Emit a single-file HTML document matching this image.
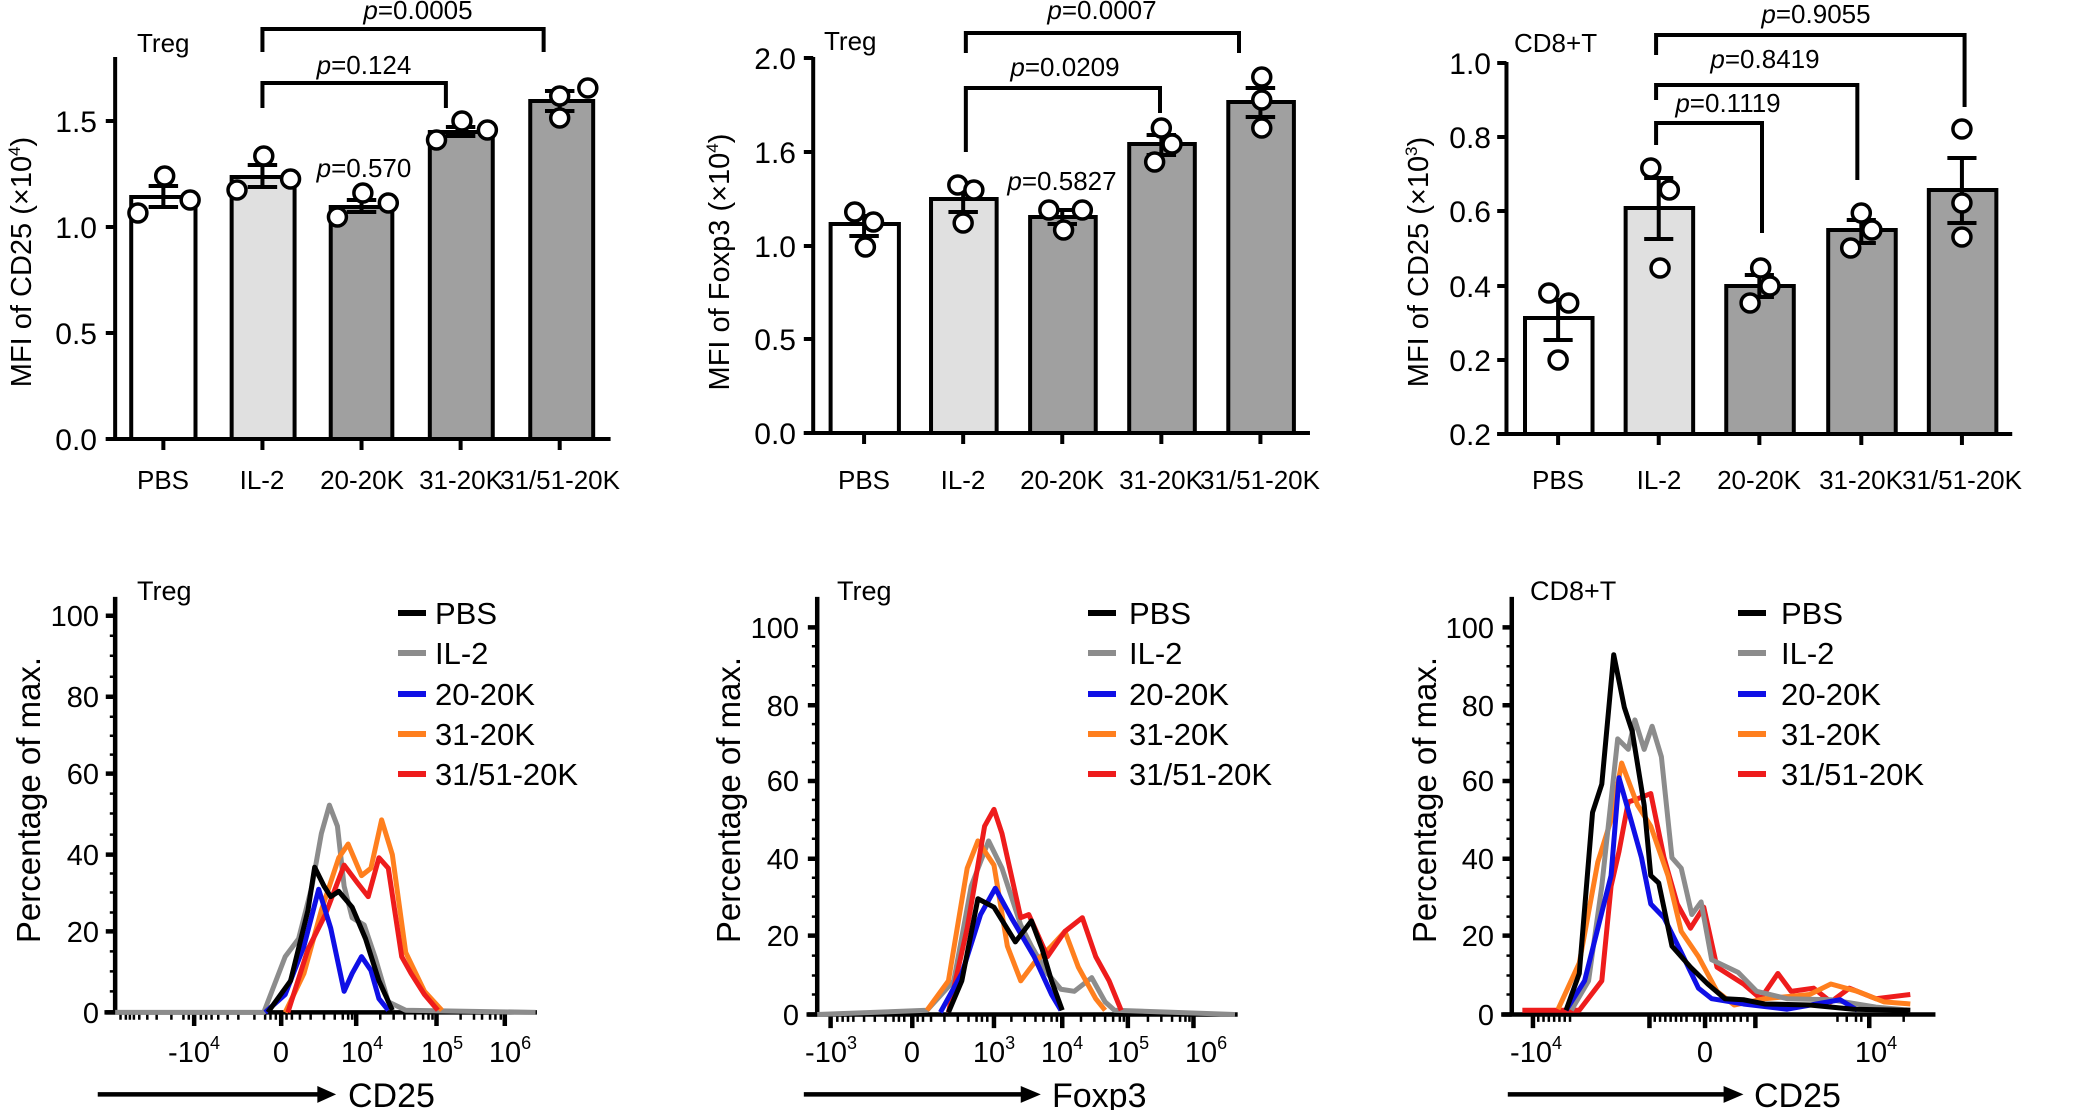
<!DOCTYPE html>
<html><head><meta charset="utf-8"><style>
html,body{margin:0;padding:0;background:#fff;}
svg{display:block;font-family:"Liberation Sans",Arial,sans-serif;}
path,rect,ellipse,polyline,line{vector-effect:non-scaling-stroke;}
</style></head><body>
<svg width="2082" height="1110" viewBox="0 0 2082 1110" xmlns="http://www.w3.org/2000/svg">

<!-- ===== TOP LEFT (shapes) ===== -->
<g transform="matrix(1.339 0 0 1 0 0)">
<g stroke="#000" fill="none" stroke-width="4">
<path d="M86 57 V440 M79 439 H456"/>
<path d="M79 121 H86 M79 227 H86 M79 333 H86 M79 439 H86"/>
<path d="M122 439 V450 M196 439 V450 M270 439 V450 M344 439 V450 M418 439 V450"/>
</g>
<g stroke="#000" stroke-width="4">
<rect x="98" y="197" width="48" height="242" fill="#fff"/>
<rect x="173" y="177" width="47" height="262" fill="#e0e0e0"/>
<rect x="247" y="207" width="46" height="232" fill="#a0a0a0"/>
<rect x="321" y="132" width="47" height="307" fill="#a0a0a0"/>
<rect x="396" y="101" width="47" height="338" fill="#a0a0a0"/>
</g>
<g stroke="#000" stroke-width="4" fill="none">
<path d="M122 186 V207 M111 186 H133 M111 207 H133"/>
<path d="M196 165 V187 M185 165 H207 M185 187 H207"/>
<path d="M270 200 V212 M259 200 H281 M259 212 H281"/>
<path d="M344 127 V136 M333 127 H355 M333 136 H355"/>
<path d="M418 91 V111 M407 91 H429 M407 111 H429"/>
<path d="M196 52 V29 H406 V52"/>
<path d="M196 108 V83 H333 V108"/>
</g>
<g stroke="#000" stroke-width="3.5" fill="#fff">
<ellipse cx="103" cy="213" rx="6.7" ry="9"/><ellipse cx="123" cy="176" rx="6.7" ry="9"/><ellipse cx="142" cy="200" rx="6.7" ry="9"/>
<ellipse cx="177" cy="190" rx="6.7" ry="9"/><ellipse cx="197" cy="156" rx="6.7" ry="9"/><ellipse cx="217" cy="179" rx="6.7" ry="9"/>
<ellipse cx="252" cy="217" rx="6.7" ry="9"/><ellipse cx="271" cy="193" rx="6.7" ry="9"/><ellipse cx="290" cy="203" rx="6.7" ry="9"/>
<ellipse cx="326" cy="140" rx="6.7" ry="9"/><ellipse cx="345" cy="121" rx="6.7" ry="9"/><ellipse cx="364" cy="130" rx="6.7" ry="9"/>
<ellipse cx="418" cy="118" rx="6.7" ry="9"/><ellipse cx="418" cy="96" rx="6.7" ry="9"/><ellipse cx="439" cy="88" rx="6.7" ry="9"/>
</g>
</g>
<g font-size="30" fill="#000">
<g text-anchor="end"><text x="97" y="132">1.5</text><text x="97" y="238">1.0</text><text x="97" y="344">0.5</text><text x="97" y="450">0.0</text></g>
<g text-anchor="middle" font-size="26"><text x="163" y="489">PBS</text><text x="262" y="489">IL-2</text><text x="362" y="489">20-20K</text><text x="461" y="489">31-20K</text><text x="560" y="489">31/51-20K</text></g>
<text x="137" y="52" font-size="26">Treg</text>
<g font-size="26" text-anchor="middle"><text x="418" y="19"><tspan font-style="italic">p</tspan>=0.0005</text><text x="364" y="74"><tspan font-style="italic">p</tspan>=0.124</text><text x="364" y="177"><tspan font-style="italic">p</tspan>=0.570</text></g>
<text transform="translate(31,262) rotate(-90)" text-anchor="middle" font-size="29">MFI of CD25 (×10<tspan font-size="17" dy="-11">4</tspan><tspan dy="11">)</tspan></text>
</g>

<!-- ===== TOP MIDDLE ===== -->
<g transform="matrix(1.339 0 0 1 -233.9 0)">
<g stroke="#000" fill="none" stroke-width="4">
<path d="M782 57 V434 M775 433 H1153"/>
<path d="M775 58 H782 M775 152 H782 M775 246 H782 M775 339 H782 M775 433 H782"/>
<path d="M820 433 V444 M894 433 V444 M968 433 V444 M1042 433 V444 M1116 433 V444"/>
</g>
<g stroke="#000" stroke-width="4">
<rect x="795" y="224" width="51" height="209" fill="#fff"/>
<rect x="870" y="199" width="49" height="234" fill="#e0e0e0"/>
<rect x="944" y="217" width="49" height="216" fill="#a0a0a0"/>
<rect x="1018" y="144" width="49" height="289" fill="#a0a0a0"/>
<rect x="1092" y="102" width="49" height="331" fill="#a0a0a0"/>
</g>
<g stroke="#000" stroke-width="4" fill="none">
<path d="M820 216 V236 M809 216 H831 M809 236 H831"/>
<path d="M894 188 V212 M883 188 H905 M883 212 H905"/>
<path d="M968 210 V224 M957 210 H979 M957 224 H979"/>
<path d="M1042 135 V155 M1031 135 H1053 M1031 155 H1053"/>
<path d="M1116 88 V117 M1105 88 H1127 M1105 117 H1127"/>
<path d="M896 53 V33 H1100 V53"/>
<path d="M896 152 V88 H1041 V113"/>
</g>
<g stroke="#000" stroke-width="3.5" fill="#fff">
<ellipse cx="813" cy="212" rx="6.7" ry="9"/><ellipse cx="827" cy="222" rx="6.7" ry="9"/><ellipse cx="821" cy="247" rx="6.7" ry="9"/>
<ellipse cx="890" cy="185" rx="6.7" ry="9"/><ellipse cx="902" cy="190" rx="6.7" ry="9"/><ellipse cx="894" cy="223" rx="6.7" ry="9"/>
<ellipse cx="958" cy="210" rx="6.7" ry="9"/><ellipse cx="983" cy="210" rx="6.7" ry="9"/><ellipse cx="969" cy="230" rx="6.7" ry="9"/>
<ellipse cx="1042" cy="128" rx="6.7" ry="9"/><ellipse cx="1050" cy="144" rx="6.7" ry="9"/><ellipse cx="1037" cy="162" rx="6.7" ry="9"/>
<ellipse cx="1117" cy="77" rx="6.7" ry="9"/><ellipse cx="1117" cy="100" rx="6.7" ry="9"/><ellipse cx="1117" cy="128" rx="6.7" ry="9"/>
</g>
</g>
<g font-size="30" fill="#000">
<g text-anchor="end"><text x="796" y="69">2.0</text><text x="796" y="163">1.6</text><text x="796" y="257">1.0</text><text x="796" y="350">0.5</text><text x="796" y="444">0.0</text></g>
<g text-anchor="middle" font-size="26"><text x="864" y="489">PBS</text><text x="963" y="489">IL-2</text><text x="1062" y="489">20-20K</text><text x="1161" y="489">31-20K</text><text x="1260" y="489">31/51-20K</text></g>
<text x="824" y="50" font-size="26">Treg</text>
<g font-size="26" text-anchor="middle"><text x="1102" y="19"><tspan font-style="italic">p</tspan>=0.0007</text><text x="1065" y="76"><tspan font-style="italic">p</tspan>=0.0209</text><text x="1062" y="190"><tspan font-style="italic">p</tspan>=0.5827</text></g>
<text transform="translate(729,262) rotate(-90)" text-anchor="middle" font-size="29">MFI of Foxp3 (×10<tspan font-size="17" dy="-11">4</tspan><tspan dy="11">)</tspan></text>
</g>

<!-- ===== TOP RIGHT ===== -->
<g transform="matrix(1.324 0 0 1 -450.4 0)">
<g stroke="#000" fill="none" stroke-width="4">
<path d="M1478 62 V435 M1471 434 H1860"/>
<path d="M1471 63 H1478 M1471 137 H1478 M1471 211 H1478 M1471 286 H1478 M1471 360 H1478 M1471 434 H1478"/>
<path d="M1517 434 V445 M1593 434 V445 M1669 434 V445 M1746 434 V445 M1822 434 V445"/>
</g>
<g stroke="#000" stroke-width="4">
<rect x="1492" y="318" width="51" height="116" fill="#fff"/>
<rect x="1568" y="208" width="51" height="226" fill="#e0e0e0"/>
<rect x="1644" y="286" width="51" height="148" fill="#a0a0a0"/>
<rect x="1721" y="230" width="51" height="204" fill="#a0a0a0"/>
<rect x="1797" y="190" width="51" height="244" fill="#a0a0a0"/>
</g>
<g stroke="#000" stroke-width="4" fill="none">
<path d="M1517 300 V340 M1506 300 H1528 M1506 340 H1528"/>
<path d="M1593 178 V239 M1582 178 H1604 M1582 239 H1604"/>
<path d="M1669 275 V297 M1658 275 H1680 M1658 297 H1680"/>
<path d="M1746 220 V243 M1735 220 H1757 M1735 243 H1757"/>
<path d="M1822 158 V223 M1811 158 H1833 M1811 223 H1833"/>
<path d="M1591 55 V35 H1824 V107"/>
<path d="M1591 100 V85 H1743 V180"/>
<path d="M1591 145 V123 H1671 V233"/>
</g>
<g stroke="#000" stroke-width="3.5" fill="#fff">
<ellipse cx="1510" cy="293" rx="6.8" ry="9"/><ellipse cx="1525" cy="303" rx="6.8" ry="9"/><ellipse cx="1517" cy="360" rx="6.8" ry="9"/>
<ellipse cx="1587" cy="168" rx="6.8" ry="9"/><ellipse cx="1601" cy="190" rx="6.8" ry="9"/><ellipse cx="1594" cy="268" rx="6.8" ry="9"/>
<ellipse cx="1670" cy="268" rx="6.8" ry="9"/><ellipse cx="1677" cy="286" rx="6.8" ry="9"/><ellipse cx="1662" cy="303" rx="6.8" ry="9"/>
<ellipse cx="1746" cy="213" rx="6.8" ry="9"/><ellipse cx="1754" cy="230" rx="6.8" ry="9"/><ellipse cx="1738" cy="248" rx="6.8" ry="9"/>
<ellipse cx="1822" cy="129" rx="6.8" ry="9"/><ellipse cx="1822" cy="203" rx="6.8" ry="9"/><ellipse cx="1822" cy="237" rx="6.8" ry="9"/>
</g>
</g>
<g font-size="30" fill="#000">
<g text-anchor="end"><text x="1491" y="74">1.0</text><text x="1491" y="148">0.8</text><text x="1491" y="222">0.6</text><text x="1491" y="297">0.4</text><text x="1491" y="371">0.2</text><text x="1491" y="445">0.2</text></g>
<g text-anchor="middle" font-size="26"><text x="1558" y="489">PBS</text><text x="1659" y="489">IL-2</text><text x="1759" y="489">20-20K</text><text x="1861" y="489">31-20K</text><text x="1962" y="489">31/51-20K</text></g>
<text x="1514" y="52" font-size="26">CD8+T</text>
<g font-size="26" text-anchor="middle"><text x="1816" y="23"><tspan font-style="italic">p</tspan>=0.9055</text><text x="1765" y="68"><tspan font-style="italic">p</tspan>=0.8419</text><text x="1728" y="112"><tspan font-style="italic">p</tspan>=0.1119</text></g>
<text transform="translate(1428,262) rotate(-90)" text-anchor="middle" font-size="29">MFI of CD25 (×10<tspan font-size="17" dy="-11">3</tspan><tspan dy="11">)</tspan></text>
</g>

<!-- ===== BOTTOM LEFT ===== -->
<g transform="matrix(1.339 0 0 1.052 0 -29.1)">
<g stroke="#000" fill="none" stroke-width="4.5">
<path d="M86 595 V991 M78 990 H401"/>
<path d="M79 613 H86 M79 690 H86 M79 763 H86 M79 840 H86 M79 913 H86 M79 990 H86"/>
<path stroke-width="2.5" d="M82 632 H86 M82 651 H86 M82 671 H86 M82 709 H86 M82 727 H86 M82 745 H86 M82 782 H86 M82 801 H86 M82 821 H86 M82 858 H86 M82 876 H86 M82 895 H86 M82 932 H86 M82 951 H86 M82 970 H86"/>
<path d="M145 990 V1003 M210 990 V1003 M266 990 V1003 M326 990 V1003 M377 990 V1003"/>
<path stroke-width="2.5" d="M90 990 V997 M94 990 V997 M97 990 V997 M100 990 V997 M104 990 V997 M110 990 V997 M117 990 V997 M128 990 V997 M137 990 V997 M141 990 V997 M150 990 V997 M154 990 V997 M158 990 V997 M163 990 V997 M170 990 V997 M178 990 V997 M190 990 V997 M198 990 V997 M202 990 V997 M206 990 V997 M214 990 V997 M218 990 V997 M224 990 V997 M232 990 V997 M242 990 V997 M250 990 V997 M256 990 V997 M260 990 V997 M263 990 V997 M284 990 V997 M294 990 V997 M302 990 V997 M310 990 V997 M316 990 V997 M320 990 V997 M323 990 V997 M344 990 V997 M354 990 V997 M360 990 V997 M366 990 V997 M370 990 V997 M374 990 V997"/>
<path d="M73 1068 H240"/>
</g>
<path d="M237 1060 L251 1068 L237 1076 Z" fill="#000"/>
<g fill="none" stroke-width="5" stroke-linejoin="round">
<polyline stroke="#8c8c8c" points="86,990 197,990 213,937 223,920 233,870 240,820 246,793 252,813 257,870 263,900 272,907 280,937 290,980 303,988 400,990"/>
<polyline stroke="#ff7f1e" points="213,990 227,953 240,893 253,843 260,830 270,860 277,853 285,807 293,840 303,933 317,970 330,988"/>
<polyline stroke="#ee1c1c" points="215,990 230,930 243,897 257,850 267,867 275,880 283,843 290,853 300,937 307,953 317,973 327,988"/>
<polyline stroke="#0f0fe6" points="198,990 213,973 227,927 238,873 247,910 257,970 263,953 270,937 277,950 283,977 290,988"/>
<polyline stroke="#000" points="200,990 217,960 230,893 235,852 242,870 247,880 253,875 263,890 273,920 283,960 293,988"/>
</g>
</g>
<g font-size="29" fill="#000">
<g text-anchor="end"><text x="99" y="626">100</text><text x="99" y="707">80</text><text x="99" y="784">60</text><text x="99" y="865">40</text><text x="99" y="942">20</text><text x="99" y="1023">0</text></g>
<g text-anchor="middle"><text x="194" y="1062">-10<tspan font-size="18" dy="-13">4</tspan></text><text x="281" y="1062">0</text><text x="362" y="1062">10<tspan font-size="18" dy="-13">4</tspan></text><text x="442" y="1062">10<tspan font-size="18" dy="-13">5</tspan></text><text x="510" y="1062">10<tspan font-size="18" dy="-13">6</tspan></text></g>
<text x="348" y="1107" font-size="34">CD25</text>
<text x="137" y="600" font-size="27">Treg</text>
<text transform="translate(40,800) rotate(-90)" text-anchor="middle" font-size="33">Percentage of max.</text>
</g>
<g stroke-width="6"><path d="M398 613 H426" stroke="#000"/><path d="M398 653 H426" stroke="#8c8c8c"/><path d="M398 694 H426" stroke="#0f0fe6"/><path d="M398 734 H426" stroke="#ff7f1e"/><path d="M398 774 H426" stroke="#ee1c1c"/></g>
<g font-size="31" fill="#000"><text x="435" y="624">PBS</text><text x="435" y="664">IL-2</text><text x="435" y="705">20-20K</text><text x="435" y="745">31-20K</text><text x="435" y="785">31/51-20K</text></g>

<!-- ===== BOTTOM MIDDLE ===== -->
<g transform="matrix(1.339 0 0 1.052 -233.9 -29.1)">
<g stroke="#000" fill="none" stroke-width="4.5">
<path d="M785 595 V993 M777 992 H1099"/>
<path d="M778 624 H785 M778 698 H785 M778 770 H785 M778 844 H785 M778 917 H785 M778 992 H785"/>
<path stroke-width="2.5" d="M781 642 H785 M781 661 H785 M781 679 H785 M781 716 H785 M781 734 H785 M781 752 H785 M781 788 H785 M781 807 H785 M781 825 H785 M781 862 H785 M781 880 H785 M781 899 H785 M781 936 H785 M781 955 H785 M781 973 H785"/>
<path d="M795 992 V1005 M856 992 V1005 M917 992 V1005 M968 992 V1005 M1017 992 V1005 M1066 992 V1005"/>
<path stroke-width="2.5" d="M800 992 V999 M804 992 V999 M808 992 V999 M812 992 V999 M820 992 V999 M828 992 V999 M836 992 V999 M842 992 V999 M846 992 V999 M850 992 V999 M860 992 V999 M864 992 V999 M870 992 V999 M880 992 V999 M890 992 V999 M898 992 V999 M904 992 V999 M908 992 V999 M912 992 V999 M930 992 V999 M940 992 V999 M948 992 V999 M954 992 V999 M960 992 V999 M964 992 V999 M982 992 V999 M992 992 V999 M1000 992 V999 M1006 992 V999 M1011 992 V999 M1014 992 V999 M1032 992 V999 M1042 992 V999 M1050 992 V999 M1056 992 V999 M1060 992 V999 M1063 992 V999"/>
<path d="M775 1068 H940"/>
</g>
<path d="M937 1060 L952 1068 L937 1076 Z" fill="#000"/>
<g fill="none" stroke-width="5" stroke-linejoin="round">
<polyline stroke="#8c8c8c" points="785,992 867,988 887,960 900,870 913,827 923,853 937,907 945,927 957,953 967,968 977,970 990,957 1000,980 1007,988 1097,992"/>
<polyline stroke="#ff7f1e" points="867,988 883,960 897,853 905,827 917,850 927,927 937,960 947,943 960,927 970,913 980,947 993,977 1000,988"/>
<polyline stroke="#ee1c1c" points="883,990 897,910 910,813 917,797 923,820 937,900 943,897 957,937 970,913 983,900 993,937 1003,960 1012,988"/>
<polyline stroke="#0f0fe6" points="877,990 893,953 907,897 918,872 930,900 947,937 960,973 967,988"/>
<polyline stroke="#000" points="883,990 893,960 905,882 917,890 933,923 945,903 953,930 960,960 968,988"/>
</g>
</g>
<g font-size="29" fill="#000">
<g text-anchor="end"><text x="799" y="638">100</text><text x="799" y="716">80</text><text x="799" y="791">60</text><text x="799" y="869">40</text><text x="799" y="946">20</text><text x="799" y="1025">0</text></g>
<g text-anchor="middle"><text x="831" y="1062">-10<tspan font-size="18" dy="-13">3</tspan></text><text x="912" y="1062">0</text><text x="994" y="1062">10<tspan font-size="18" dy="-13">3</tspan></text><text x="1062" y="1062">10<tspan font-size="18" dy="-13">4</tspan></text><text x="1128" y="1062">10<tspan font-size="18" dy="-13">5</tspan></text><text x="1206" y="1062">10<tspan font-size="18" dy="-13">6</tspan></text></g>
<text x="1052" y="1107" font-size="34">Foxp3</text>
<text x="837" y="600" font-size="27">Treg</text>
<text transform="translate(740,800) rotate(-90)" text-anchor="middle" font-size="33">Percentage of max.</text>
</g>
<g stroke-width="6"><path d="M1088 613 H1116" stroke="#000"/><path d="M1088 653 H1116" stroke="#8c8c8c"/><path d="M1088 694 H1116" stroke="#0f0fe6"/><path d="M1088 734 H1116" stroke="#ff7f1e"/><path d="M1088 774 H1116" stroke="#ee1c1c"/></g>
<g font-size="31" fill="#000"><text x="1129" y="624">PBS</text><text x="1129" y="664">IL-2</text><text x="1129" y="705">20-20K</text><text x="1129" y="745">31-20K</text><text x="1129" y="785">31/51-20K</text></g>

<!-- ===== BOTTOM RIGHT ===== -->
<g transform="matrix(1.324 0 0 1.052 -450.4 -29.1)">
<g stroke="#000" fill="none" stroke-width="4.5">
<path d="M1482 595 V993 M1474 992 H1802"/>
<path d="M1475 624 H1482 M1475 698 H1482 M1475 770 H1482 M1475 844 H1482 M1475 917 H1482 M1475 992 H1482"/>
<path stroke-width="2.5" d="M1478 642 H1482 M1478 661 H1482 M1478 679 H1482 M1478 716 H1482 M1478 734 H1482 M1478 752 H1482 M1478 788 H1482 M1478 807 H1482 M1478 825 H1482 M1478 862 H1482 M1478 880 H1482 M1478 899 H1482 M1478 936 H1482 M1478 955 H1482 M1478 973 H1482"/>
<path d="M1498 992 V1005 M1586 992 V1005 M1628 992 V1005 M1666 992 V1005 M1752 992 V1005"/>
<path stroke-width="2.5" d="M1502 992 V999 M1506 992 V999 M1510 992 V999 M1514 992 V999 M1518 992 V999 M1522 992 V999 M1526 992 V999 M1590 992 V999 M1594 992 V999 M1598 992 V999 M1602 992 V999 M1606 992 V999 M1610 992 V999 M1614 992 V999 M1620 992 V999 M1624 992 V999 M1632 992 V999 M1636 992 V999 M1640 992 V999 M1645 992 V999 M1650 992 V999 M1655 992 V999 M1660 992 V999 M1728 992 V999 M1735 992 V999 M1742 992 V999 M1746 992 V999 M1778 992 V999"/>
<path d="M1479 1068 H1645"/>
</g>
<path d="M1642 1060 L1657 1068 L1642 1076 Z" fill="#000"/>
<g fill="none" stroke-width="5" stroke-linejoin="round">
<polyline stroke="#ee1c1c" points="1490,988 1533,988 1550,960 1557,870 1563,837 1570,790 1577,787 1587,782 1597,843 1607,887 1617,910 1627,890 1637,947 1657,963 1670,977 1683,953 1693,970 1710,967 1723,980 1737,967 1757,977 1783,973"/>
<polyline stroke="#ff7f1e" points="1517,987 1533,943 1547,847 1557,807 1565,753 1577,793 1587,813 1600,860 1610,913 1623,937 1637,970 1650,983 1673,977 1707,973 1723,963 1743,970 1763,980 1783,982"/>
<polyline stroke="#8c8c8c" points="1527,988 1540,960 1550,870 1562,730 1570,740 1575,712 1582,740 1588,718 1595,747 1603,843 1610,853 1618,897 1625,885 1633,940 1653,952 1667,970 1690,977 1723,978 1757,985 1783,988"/>
<polyline stroke="#0f0fe6" points="1523,988 1537,960 1557,860 1563,767 1572,807 1580,843 1587,887 1597,900 1610,933 1623,967 1633,977 1657,982 1690,987 1730,978 1743,988"/>
<polyline stroke="#000" points="1523,988 1533,953 1543,800 1550,773 1559,650 1567,700 1573,723 1582,793 1587,860 1593,867 1603,927 1617,947 1630,963 1643,977 1657,978 1673,982 1707,983 1740,987 1783,988"/>
</g>
</g>
<g font-size="29" fill="#000">
<g text-anchor="end"><text x="1494" y="638">100</text><text x="1494" y="716">80</text><text x="1494" y="791">60</text><text x="1494" y="869">40</text><text x="1494" y="946">20</text><text x="1494" y="1025">0</text></g>
<g text-anchor="middle"><text x="1536" y="1062">-10<tspan font-size="18" dy="-13">4</tspan></text><text x="1705" y="1062">0</text><text x="1876" y="1062">10<tspan font-size="18" dy="-13">4</tspan></text></g>
<text x="1754" y="1107" font-size="34">CD25</text>
<text x="1530" y="600" font-size="27">CD8+T</text>
<text transform="translate(1436,800) rotate(-90)" text-anchor="middle" font-size="33">Percentage of max.</text>
</g>
<g stroke-width="6"><path d="M1738 613 H1766" stroke="#000"/><path d="M1738 653 H1766" stroke="#8c8c8c"/><path d="M1738 694 H1766" stroke="#0f0fe6"/><path d="M1738 734 H1766" stroke="#ff7f1e"/><path d="M1738 774 H1766" stroke="#ee1c1c"/></g>
<g font-size="31" fill="#000"><text x="1781" y="624">PBS</text><text x="1781" y="664">IL-2</text><text x="1781" y="705">20-20K</text><text x="1781" y="745">31-20K</text><text x="1781" y="785">31/51-20K</text></g>
</svg>
</body></html>
